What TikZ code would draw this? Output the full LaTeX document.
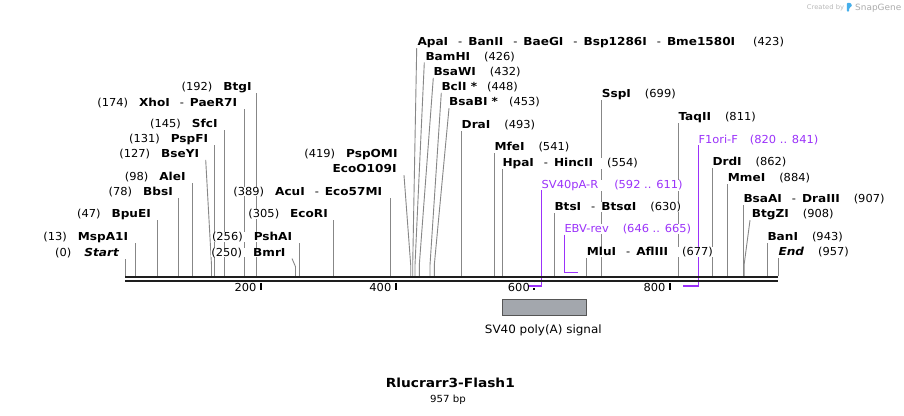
\documentclass[tikz,border=0pt]{standalone}
\usepackage{fontspec}
\setmainfont{DejaVu Sans}[FakeStretch=1.04]
\newfontfamily\bfam{DejaVu Sans}[FakeStretch=1.1]
\usetikzlibrary{calc}
\pgfdeclarelayer{bg}
\pgfsetlayers{bg,main}
\definecolor{sitegray}{RGB}{135,135,135}
\definecolor{primer}{RGB}{155,50,250}
\definecolor{seqdark}{RGB}{30,30,30}
\definecolor{featfill}{RGB}{163,167,173}
\definecolor{featedge}{RGB}{85,85,85}
\definecolor{logoblue}{RGB}{70,175,235}
\newcommand\nm[1]{{\bfam\bfseries #1}}
\newcommand\nmi[1]{{\bfam\bfseries\itshape #1}}
\newcommand\dsh{\hspace{10pt}-\hspace{6pt}}
\newcommand\gapR{\hspace{14pt}}
\newcommand\gapL{\hspace{11pt}}
% left-labelled site, straight line
\newcommand\siteL[5]{%
  \coordinate (b#1) at (#2,276);
  \node[labL] (n#1) at (#4,#3) {#5};
  \begin{pgfonlayer}{bg}\draw[site] (b#1) -- ($(b#1 |- n#1.base)+(0,2.5)$);\end{pgfonlayer}}
% left-labelled site, bent line
\newcommand\siteLs[7]{%
  \coordinate (b#1) at (#2,276);
  \coordinate (k#1) at (#2,#7);
  \node[labL] (n#1) at (#4,#3) {#5};
  \begin{pgfonlayer}{bg}\draw[site] (b#1) -- (k#1) -- ($(n#1.base east)+(#6,2.5)$);\end{pgfonlayer}}
% right-labelled site, straight line
\newcommand\siteR[4]{%
  \coordinate (b#1) at (#2,276);
  \node[labR] (n#1) at (#2,#3) {#4};
  \begin{pgfonlayer}{bg}\draw[site] (b#1) -- ($(n#1.base west)+(0,2.5)$);\end{pgfonlayer}}
% right-labelled site, bent line
\newcommand\siteRs[7]{%
  \coordinate (b#1) at (#2,276);
  \coordinate (k#1) at (#2,#7);
  \node[labR] (n#1) at (#4,#3) {#5};
  \begin{pgfonlayer}{bg}\draw[site] (b#1) -- (k#1) -- ($(n#1.base west)+(#6,2.5)$);\end{pgfonlayer}}
\begin{document}
\begin{tikzpicture}[x=1pt,y=-1pt,
  lab/.style={inner sep=0pt,fill=white,font=\fontsize{11}{13}\selectfont},
  labL/.style={lab,anchor=base east},
  labR/.style={lab,anchor=base west},
  labP/.style={lab,anchor=base west,text=primer},
  site/.style={draw=sitegray,line width=0.9pt},
  seq/.style={draw=seqdark,line width=2.3pt},
  tick/.style={draw=black,line width=1.7pt},
  tlab/.style={inner sep=0pt,anchor=base east,font=\fontsize{11}{13}\selectfont},
  prim/.style={draw=primer,line width=1.6pt,line join=miter},
  halo/.style={draw=white,line width=4.5pt}]
\begin{pgfonlayer}{bg}
\fill[white] (0,0) rectangle (904,415);
\end{pgfonlayer}
\useasboundingbox (0,0) rectangle (904,415);

% sequence
\coordinate (sA) at (125,277.2);
\coordinate (sB) at (778.3,277.2);
\coordinate (sC) at (125,280.8);
\coordinate (sD) at (778.3,280.8);
\draw[seq] (sA) -- (sB);
\draw[seq] (sC) -- (sD);

% ruler ticks
\begin{pgfonlayer}{bg}
\coordinate (t200a) at (260.7,282.5); \coordinate (t200b) at (260.7,290);
\coordinate (t400a) at (396,282.5);   \coordinate (t400b) at (396,290);
\coordinate (t600a) at (533.9,282.5); \coordinate (t600b) at (533.9,290);
\coordinate (t800a) at (670,282.5);   \coordinate (t800b) at (670,290);
\draw[tick] (t200a) -- (t200b);
\draw[tick] (t400a) -- (t400b);
\draw[tick] (t600a) -- (t600b);
\draw[tick] (t800a) -- (t800b);
\end{pgfonlayer}
\node[tlab] (l200) at (256.7,291.7) {200};
\node[tlab] (l400) at (391.5,291.7) {400};
\node[tlab] (l600) at (530,291.7) {600};
\node[tlab] (l800) at (665.7,291.7) {800};

% left-labelled sites
\siteL{0}{125}{256}{119}{(0)\hspace{13pt}\nmi{Start}}
\siteL{13}{135}{240.7}{128.3}{(13)\gapL\nm{MspA1I}}
\siteL{47}{157}{217.7}{151}{(47)\gapL\nm{BpuEI}}
\siteL{78}{178.3}{195}{173}{(78)\gapL\nm{BbsI}}
\siteL{98}{192}{180.7}{185.7}{(98)\gapL\nm{AleI}}
\siteLs{127}{211.5}{157.3}{199.3}{(127)\gapL\nm{BseYI}}{6.4}{265}
\siteL{131}{214.7}{142.7}{208.3}{(131)\gapL\nm{PspFI}}
\siteL{145}{224.3}{127.7}{217.7}{(145)\gapL\nm{SfcI}}
\siteL{174}{244.3}{106}{237.3}{(174)\gapL\nm{XhoI}\dsh\nm{PaeR7I}}
\siteL{192}{256.7}{90.3}{251.7}{(192)\gapL\nm{BtgI}}
\siteLs{250}{295.5}{256}{285.7}{(250)\gapL\nm{BmrI}}{6.3}{266.7}
\siteL{256}{299.3}{240.7}{292.3}{(256)\gapL\nm{PshAI}}
\siteL{305}{333.3}{217.3}{328}{(305)\gapL\nm{EcoRI}}
\siteL{389}{390.7}{195}{382.3}{(389)\gapL\nm{AcuI}\dsh\nm{Eco57MI}}
\node[labL] (n419a) at (397.7,157.7) {(419)\gapL\nm{PspOMI}};
\siteLs{419}{410.7}{172.7}{396.7}{\nm{EcoO109I}}{7.3}{265}

% right-labelled sites
\siteRs{423}{412.7}{45.7}{417.3}{\nm{ApaI}\dsh\nm{BanII}\dsh\nm{BaeGI}\dsh\nm{Bsp1286I}\dsh\nm{Bme1580I}\hspace{18pt}(423)}{-0.6}{265}
\siteRs{426}{415}{60}{425.3}{\nm{BamHI}\gapR(426)}{-1}{265}
\siteRs{432}{419.3}{75.3}{433.3}{\nm{BsaWI}\gapR(432)}{0}{265}
\siteRs{448}{430}{90.3}{441.3}{\nm{BclI *}\hspace{10pt}(448)}{0}{265}
\siteRs{453}{434.3}{105.7}{449}{\nm{BsaBI *}\hspace{11pt}(453)}{0}{265}
\siteR{493}{461.5}{128.3}{\nm{DraI}\gapR(493)}
\siteR{541}{494.3}{150.7}{\nm{MfeI}\gapR(541)}
\siteR{554}{502.3}{166.7}{\nm{HpaI}\dsh\nm{HincII}\gapR(554)}
\siteR{630}{554.3}{210.7}{\nm{BtsI}\dsh\nm{BtsαI}\gapR(630)}
\siteR{677}{586.7}{255.7}{\nm{MluI}\dsh\nm{AflIII}\gapR(677)}
\siteR{699}{601.7}{97.7}{\nm{SspI}\gapR(699)}
\siteR{811}{678.3}{120.7}{\nm{TaqII}\gapR(811)}
\siteR{862}{712.3}{165.7}{\nm{DrdI}\gapR(862)}
\siteR{884}{727.7}{181}{\nm{MmeI}\gapR(884)}
\siteR{907}{743.3}{202.7}{\nm{BsaAI}\dsh\nm{DraIII}\gapR(907)}
\siteRs{908}{744.2}{217.7}{751.7}{\nm{BtgZI}\gapR(908)}{-1.7}{264}
\siteR{943}{767.3}{240}{\nm{BanI}\gapR(943)}
\siteR{957}{778.3}{255.7}{\nmi{End}\gapR(957)}

% primers
\node[labP] (pSV) at (541.5,188.3) {SV40pA-R\hspace{16pt}(592 .. 611)};
\node[labP] (pEBV) at (564.3,232.7) {EBV-rev\gapR(646 .. 665)};
\node[labP] (pF1) at (698.3,143.3) {F1ori-F\hspace{12pt}(820 .. 841)};
\coordinate (pSVa) at (541.5,285.7); \coordinate (pSVb) at (528.3,285.7);
\coordinate (pEBVa) at (564.3,272.3); \coordinate (pEBVb) at (577.7,272.3);
\coordinate (pF1a) at (698.3,285.7); \coordinate (pF1b) at (683.3,285.7);
\begin{pgfonlayer}{bg}
\draw[halo] (pSVb) -- (pSVa);
\draw[halo] (pF1b) -- (pF1a);
\draw[prim] ($(pSV.base west)+(0,1.8)$) -- (pSVa) -- (pSVb);
\draw[prim] ($(pEBV.base west)+(0,1.8)$) -- (pEBVa) -- (pEBVb);
\draw[prim] ($(pF1.base west)+(0,1.8)$) -- (pF1a) -- (pF1b);
\end{pgfonlayer}

% feature
\node[draw=featedge,fill=featfill,line width=0.8pt,minimum width=84.4pt,minimum height=15.7pt,inner sep=0pt] (feat) at (544.5,307.2) {};
\node[inner sep=0pt,anchor=base,font=\fontsize{11.5}{13}\selectfont] (featlab) at (543.3,333.3) {SV40 poly(A) signal};

% title
\node[inner sep=0pt,anchor=base,font=\fontsize{12.5}{14}\selectfont] (title) at (450.3,387.7) {\nm{Rlucrarr3-Flash1}};
\node[inner sep=0pt,anchor=base,font=\fontsize{9.8}{11}\selectfont] (len) at (448,402) {957 bp};

% credit
\node[inner sep=0pt,anchor=base west,text=gray!55,font=\fontsize{6.5}{8}\selectfont] (cby) at (806.7,9.4) {Created by};
\fill[logoblue,rounded corners=1pt] (846.8,11.7) -- (846.8,2.8) -- (850.2,2.8) -- (851.8,4.4) -- (851.8,6.2) -- (849.2,8) -- (849.2,11.7) -- cycle;
\node[inner sep=0pt,anchor=base west,text=gray!65,font=\fontsize{8.6}{10}\selectfont] (sg) at (855,10.3) {SnapGene};
\end{tikzpicture}
\end{document}
